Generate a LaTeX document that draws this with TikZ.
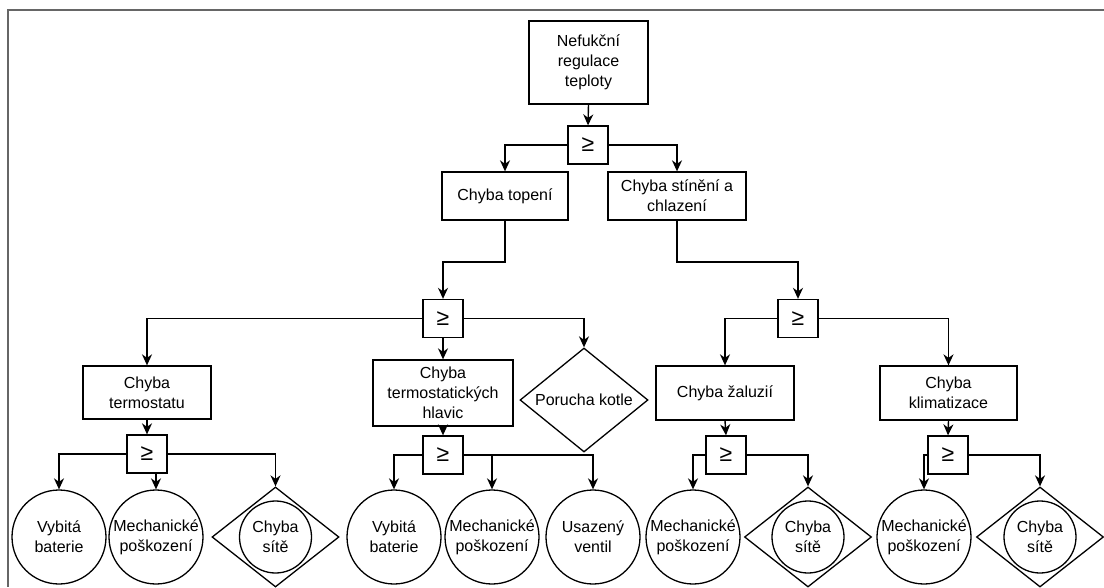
\documentclass[tikz,border=0pt]{standalone}
\usepackage{fontspec}
\setmainfont{Liberation Sans}
\usetikzlibrary{arrows.meta,shapes.geometric}
\tikzset{
event/.style={draw,line width=1.3pt,align=center,inner sep=0pt},
gate/.style={draw,line width=1.3pt,minimum width=40pt,minimum height=38pt,inner sep=0pt,font=\fontsize{23}{23}\selectfont},
basic/.style={circle,draw,line width=1.3pt,minimum size=94pt,inner sep=0pt,align=center},
undev/.style={diamond,draw,line width=1.3pt,aspect=1.25,inner sep=0pt,align=center,minimum width=127pt,minimum height=100pt},
inner/.style={circle,draw,line width=1.3pt,minimum size=72pt,inner sep=0pt,align=center},
arr/.style={-{Stealth[length=11pt,width=10pt,inset=3.5pt]},line width=1.4pt},
frame/.style={line width=2pt,black!60},
}
\tikzstyle{every node}=[font=\fontsize{16}{20}\selectfont]

\begin{document}
\begin{tikzpicture}[x=1pt,y=-1pt]
    \useasboundingbox (0,0) rectangle (1104,587);
    \draw[frame] (1104,9.5) -- (7.5,9.5) -- (7.5,587);

    % top event and first gate
    \node[event,minimum width=119pt,minimum height=83pt] (top) at (588.5,62.5) {Nefukční\\regulace\\teploty};
    \node[gate] (g1) at (588,145) {≥};
    \node[event,minimum width=126pt,minimum height=48pt] (topeni) at (505,196) {Chyba topení};
    \node[event,minimum width=138pt,minimum height=48pt] (stineni) at (677,196) {Chyba stínění a\\chlazení};
    \coordinate (tk) at (505,262);
    \coordinate (sk) at (677,262);

    % second level
    \node[gate] (g2) at (443,318.5) {≥};
    \node[gate] (g5) at (798,318.5) {≥};
    \node[event,minimum width=128pt,minimum height=53pt] (termostat) at (147,392.5) {Chyba\\termostatu};
    \node[event,minimum width=140pt,minimum height=66pt] (hlavice) at (443,393) {Chyba\\termostatických\\hlavic};
    \node[undev,minimum width=128pt,minimum height=104pt] (kotel) at (584,400) {Porucha kotle};
    \node[event,minimum width=138pt,minimum height=54pt] (zaluzie) at (725,393) {Chyba žaluzií};
    \node[event,minimum width=137pt,minimum height=54pt] (klima) at (948.5,393) {Chyba\\klimatizace};

    % third level
    \node[gate] (g3) at (147,454) {≥};
    \node[gate] (g4) at (443,455) {≥};
    \node[gate] (g6) at (726,455) {≥};
    \node[gate] (g7) at (948,455) {≥};

    % basic events
    \node[basic] (b1) at (59,537) {Vybitá\\baterie};
    \node[basic] (m1) at (156,537) {Mechanické\\poškození};
    \node[undev] (s1) at (275.5,537) {};
    \node[inner] (s1c) at (s1) {Chyba\\sítě};
    \node[basic] (b2) at (394,537) {Vybitá\\baterie};
    \node[basic] (m2) at (492,537) {Mechanické\\poškození};
    \node[basic] (u) at (593,537) {Usazený\\ventil};
    \node[basic] (m3) at (693,537) {Mechanické\\poškození};
    \node[undev] (s3) at (808,537) {};
    \node[inner] (s3c) at (s3) {Chyba\\sítě};
    \node[basic] (m4) at (924,537) {Mechanické\\poškození};
    \node[undev] (s4) at (1040,537) {};
    \node[inner] (s4c) at (s4) {Chyba\\sítě};

    % connectors
    \draw[arr] (top.south) -- (g1.north);
    \draw[arr] (g1.west) -| (topeni.north);
    \draw[arr] (g1.east) -| (stineni.north);
    \draw[arr] (topeni.south) -- (tk) -| (g2.north);
    \draw[arr] (stineni.south) -- (sk) -| (g5.north);

    \draw[arr] (g2.west) -| (termostat.north);
    \draw[arr] (g2.south) -- (hlavice.north);
    \draw[arr] (g2.east) -| (kotel.north);
    \draw[arr] (g5.west) -| (zaluzie.north);
    \draw[arr] (g5.east) -| (klima.north);

    \draw[arr] (termostat.south) -- (g3.north);
    \draw[arr] (hlavice.south) -- (g4.north);
    \draw[arr] (zaluzie.south) -- (g6.north);
    \draw[arr] (klima.south) -- (g7.north);

    \draw[arr] (g3.west) -| (b1.north);
    \draw[arr] (g3.south -| m1.north) -- (m1.north);
    \draw[arr] (g3.east) -| (s1.north);
    \draw[arr] (g4.west) -| (b2.north);
    \draw[arr] (g4.east) -| (m2.north);
    \draw[arr] (g4.east) -| (u.north);
    \draw[arr] (g6.west) -| (m3.north);
    \draw[arr] (g6.east) -| (s3.north);
    \draw[arr] (g7.west) -| (m4.north);
    \draw[arr] (g7.east) -| (s4.north);
\end{tikzpicture}
\end{document}
